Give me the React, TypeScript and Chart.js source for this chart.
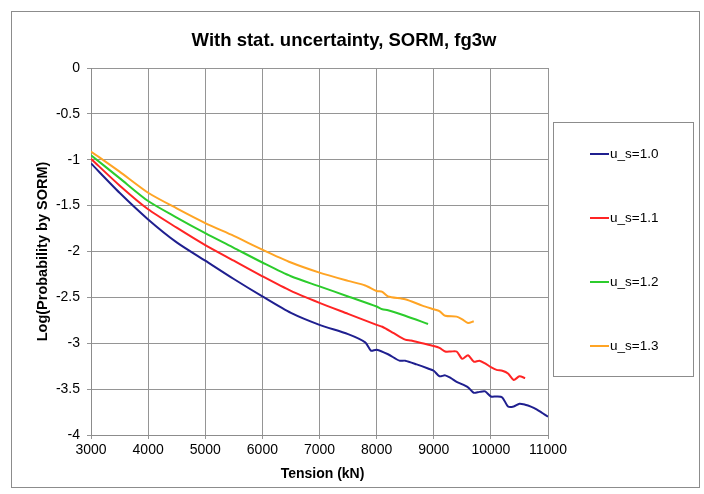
import React, { useEffect, useRef } from "react";
import { Chart, registerables } from "chart.js";

Chart.register(...registerables);

const TITLE = "With stat. uncertainty, SORM, fg3w";
const X_TITLE = "Tension (kN)";
const Y_TITLE = "Log(Probability by SORM)";

const SERIES_LABELS = ["u_s=1.0", "u_s=1.1", "u_s=1.2", "u_s=1.3"];
const SERIES_COLORS = ["#1f1f8f", "#ff2424", "#2ccc2c", "#ffa424"];

const tension10 = [3000, 3500, 4000, 4500, 5000, 5500, 6000, 6500, 7000, 7500, 7800, 7900, 8000, 8200, 8400, 8500, 8700, 8900, 9000, 9100, 9200, 9300, 9400, 9600, 9700, 9800, 9900, 10000, 10100, 10200, 10300, 10400, 10500, 10600, 10700, 10800, 10900, 11000];
const logP10 = [-1.04, -1.36, -1.65, -1.9, -2.1, -2.3, -2.49, -2.67, -2.8, -2.9, -2.99, -3.08, -3.07, -3.12, -3.19, -3.19, -3.23, -3.275, -3.3, -3.36, -3.35, -3.38, -3.42, -3.48, -3.54, -3.53, -3.525, -3.58, -3.58, -3.59, -3.69, -3.69, -3.66, -3.67, -3.69, -3.72, -3.76, -3.8];

const tension11 = [3000, 3500, 4000, 4500, 5000, 5500, 6000, 6500, 7000, 7500, 8000, 8100, 8300, 8500, 8600, 8800, 9000, 9100, 9200, 9300, 9400, 9500, 9600, 9700, 9800, 9900, 10000, 10100, 10200, 10300, 10400, 10500, 10600];
const logP11 = [-0.99, -1.28, -1.54, -1.74, -1.93, -2.1, -2.27, -2.43, -2.56, -2.68, -2.8, -2.82, -2.89, -2.96, -2.97, -3.0, -3.03, -3.05, -3.09, -3.09, -3.09, -3.17, -3.13, -3.2, -3.19, -3.22, -3.26, -3.29, -3.3, -3.33, -3.4, -3.36, -3.38];

const tension12 = [3000, 3500, 4000, 4500, 5000, 5500, 6000, 6500, 7000, 7500, 8000, 8100, 8200, 8500, 8900];
const logP12 = [-0.95, -1.2, -1.45, -1.63, -1.8, -1.96, -2.12, -2.27, -2.38, -2.49, -2.6, -2.63, -2.64, -2.7, -2.79];

const tension13 = [3000, 3500, 4000, 4500, 5000, 5500, 6000, 6500, 7000, 7500, 7800, 8000, 8100, 8200, 8500, 8800, 9000, 9100, 9200, 9400, 9500, 9600, 9700];
const logP13 = [-0.91, -1.13, -1.36, -1.53, -1.69, -1.83, -1.98, -2.12, -2.23, -2.32, -2.37, -2.43, -2.44, -2.49, -2.52, -2.59, -2.63, -2.65, -2.7, -2.71, -2.74, -2.78, -2.76];

const X_MIN = 3000;
const X_MAX = 11000;
const X_STEP = 1000;
const Y_MIN = -4;
const Y_MAX = 0;
const Y_STEP = 0.5;

const FONT = '"Liberation Sans", Arial, sans-serif';

const seriesX = [tension10, tension11, tension12, tension13];
const seriesY = [logP10, logP11, logP12, logP13];

const decorPlugin = {
  id: "decor",
  beforeDraw(chart: any) {
    const ctx = chart.ctx;
    ctx.save();
    ctx.fillStyle = "#ffffff";
    ctx.fillRect(0, 0, chart.width, chart.height);
    ctx.strokeStyle = "#8c8c8c";
    ctx.lineWidth = 1;
    ctx.strokeRect(11.5, 11.5, 688, 476);
    ctx.restore();
  },
  afterDraw(chart: any) {
    const ctx = chart.ctx;
    const area = chart.chartArea;
    ctx.save();
    ctx.fillStyle = "#000000";
    ctx.font = `bold 18.5px ${FONT}`;
    ctx.textAlign = "center";
    ctx.textBaseline = "alphabetic";
    ctx.fillText(TITLE, 344, 46);
    ctx.font = `bold 14px ${FONT}`;
    ctx.textBaseline = "middle";
    ctx.fillText(X_TITLE, (area.left + area.right) / 2 + 3, 474);
    ctx.save();
    ctx.translate(43, (area.top + area.bottom) / 2);
    ctx.rotate(-Math.PI / 2);
    ctx.font = `bold 14.5px ${FONT}`;
    ctx.fillText(Y_TITLE, 0, 0);
    ctx.restore();
    ctx.strokeStyle = "#8c8c8c";
    ctx.lineWidth = 1;
    ctx.strokeRect(553.5, 122.5, 140, 254);
    ctx.font = `13.5px ${FONT}`;
    ctx.textAlign = "left";
    ctx.textBaseline = "middle";
    chart.data.datasets.forEach((ds: any, i: number) => {
      const y = 154 + i * 64;
      ctx.strokeStyle = ds.borderColor;
      ctx.lineWidth = 2;
      ctx.beginPath();
      ctx.moveTo(590, y);
      ctx.lineTo(609, y);
      ctx.stroke();
      ctx.fillStyle = "#000000";
      ctx.fillText(ds.label, 610, y);
    });
    ctx.restore();
  },
};

export default function App() {
  const ref = useRef<HTMLCanvasElement | null>(null);

  useEffect(() => {
    if (!ref.current) return;
    const datasets = SERIES_LABELS.map((label, i) => ({
      label,
      data: seriesX[i].map((x, j) => ({ x, y: seriesY[i][j] })),
      borderColor: SERIES_COLORS[i],
      backgroundColor: SERIES_COLORS[i],
      borderWidth: 2,
      pointRadius: 0,
      fill: false,
      tension: 0.25,
    }));
    const chart = new Chart(ref.current, {
      type: "line",
      data: { datasets },
      plugins: [decorPlugin],
      options: {
        animation: false,
        responsive: false,
        devicePixelRatio: 1,
        layout: { padding: { left: 0, top: 68, right: 156, bottom: 0 } },
        plugins: {
          legend: { display: false },
          title: { display: false },
          tooltip: { enabled: false },
        },
        scales: {
          x: {
            type: "linear",
            min: X_MIN,
            max: X_MAX,
            afterFit: (s: any) => {
              s.height = 59;
            },
            ticks: {
              stepSize: X_STEP,
              color: "#000",
              font: { family: FONT, size: 14 },
              padding: 3,
              maxRotation: 0,
              callback: (v: any) => String(v),
            },
            grid: { color: "#959595", lineWidth: 1, tickLength: 4, drawTicks: true },
            border: { display: true, color: "#8c8c8c" },
          },
          y: {
            type: "linear",
            min: Y_MIN,
            max: Y_MAX,
            afterFit: (s: any) => {
              s.width = 91;
            },
            ticks: {
              stepSize: Y_STEP,
              color: "#000",
              font: { family: FONT, size: 14 },
              padding: 7,
              callback: (v: any) => String(v),
            },
            grid: { color: "#959595", lineWidth: 1, tickLength: 4, drawTicks: true },
            border: { display: true, color: "#8c8c8c" },
          },
        },
      },
    });
    return () => chart.destroy();
  }, []);

  return (
    <div style={{ position: "fixed", left: 0, top: 0, width: 704, height: 494, background: "#fff" }}>
      <canvas ref={ref} width={704} height={494} style={{ width: 704, height: 494, display: "block" }} />
    </div>
  );
}
